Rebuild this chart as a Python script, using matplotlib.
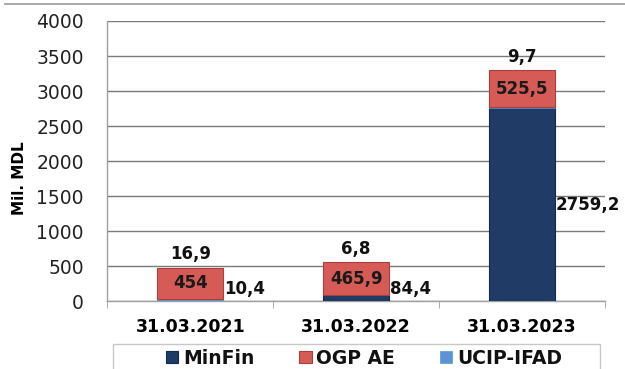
import numpy as np
import matplotlib.pyplot as plt
from matplotlib.lines import Line2D
from matplotlib.patches import Rectangle

# ── Datos ─────────────────────────────────────────────────────────────────────
dates = ['31.03.2021', '31.03.2022', '31.03.2023']
minfin = [10.4, 84.4, 2759.2]
ucip_ifad = [16.9, 6.8, 9.7]
ogp_ae = [454, 465.9, 525.5]

COLORS = {
    'minfin': '#1F3B66',
    'ucip': '#5B93D6',
    'ogp': '#D65B56',
}


def fmt(v):
    return f'{v:g}'.replace('.', ',')


plt.rcParams.update({
    'font.family': 'DejaVu Sans',
    'text.color': '#111111',
})

fig = plt.figure(figsize=(6.25, 3.69), dpi=100)
ax = fig.add_axes([0.1717, 0.1835, 0.7963, 0.7596])

x = np.arange(len(dates))
w = 0.40
bottom_ucip = np.array(minfin)
bottom_ogp = bottom_ucip + np.array(ucip_ifad)

ax.bar(x, minfin, w, color=COLORS['minfin'], edgecolor='#15294A',
       linewidth=0.8, label='MinFin', zorder=3)
ax.bar(x, ucip_ifad, w, bottom=bottom_ucip, color=COLORS['ucip'],
       edgecolor=COLORS['ucip'], linewidth=0.5, label='UCIP-IFAD', zorder=3)
ax.bar(x, ogp_ae, w, bottom=bottom_ogp, color=COLORS['ogp'],
       edgecolor='#A8413D', linewidth=0.8, label='OGP AE', zorder=3)

# Etiquetas de valores
for i in range(len(dates)):
    top = minfin[i] + ucip_ifad[i] + ogp_ae[i]
    ax.annotate(fmt(ucip_ifad[i]), (x[i], top), xytext=(0, 3),
                textcoords='offset points', ha='center', va='bottom',
                fontsize=12, fontweight='bold', zorder=5)
    ax.text(x[i], bottom_ogp[i] + ogp_ae[i] / 2, fmt(ogp_ae[i]),
            ha='center', va='center', fontsize=12, fontweight='bold',
            color='#1A1A1A', zorder=5)
    ax.text(x[i] + w / 2 + 0.005, max(minfin[i] / 2, 170), fmt(minfin[i]),
            ha='left', va='center', fontsize=12, fontweight='bold',
            zorder=5, clip_on=False)

# Ejes
ax.set_xlim(-0.5, 2.5)
ax.set_ylim(0, 4000)
ax.set_yticks(np.arange(0, 4001, 500))
ax.yaxis.grid(True, color='#7A7A7A', linewidth=1.0, zorder=0)
ax.set_axisbelow(True)

ax.set_xticks(x)
ax.set_xticklabels(dates, fontsize=12.5, fontweight='bold')
ax.set_xticks([-0.5, 0.5, 1.5, 2.5], minor=True)
ax.tick_params(axis='x', which='major', length=0, pad=12)
ax.tick_params(axis='x', which='minor', length=5, color='#A0A0A0',
               direction='out')
ax.tick_params(axis='y', length=0, pad=17, labelsize=13.5,
               labelcolor='#222222')

for side in ['top', 'right']:
    ax.spines[side].set_visible(False)
for side in ['left', 'bottom']:
    ax.spines[side].set_color('#A0A0A0')
    ax.spines[side].set_linewidth(1.0)

ax.set_ylabel('Mil. MDL', fontsize=11, fontweight='bold')
ax.yaxis.set_label_coords(-0.161, 0.44)

# Línea superior y marco de la leyenda
fig.add_artist(Line2D([5 / 625, 1.0], [1 - 4 / 369, 1 - 4 / 369],
                      color='#9A9A9A', linewidth=1.2))
fig.add_artist(Rectangle((113 / 625, -0.05), 487 / 625, 0.05 + 1 - 344 / 369,
                         facecolor='white', edgecolor='#C8C8C8',
                         linewidth=1.0))

handles, labels = ax.get_legend_handles_labels()
order = [0, 2, 1]
fig.legend([handles[k] for k in order], [labels[k] for k in order],
           loc='center', bbox_to_anchor=(364 / 625, 1 - 358 / 369),
           ncol=3, frameon=False, handlelength=0.65, handleheight=0.55,
           handletextpad=0.25, columnspacing=2.4,
           prop={'size': 13.5, 'weight': 'bold'})

fig.savefig('out.png', dpi=100)
